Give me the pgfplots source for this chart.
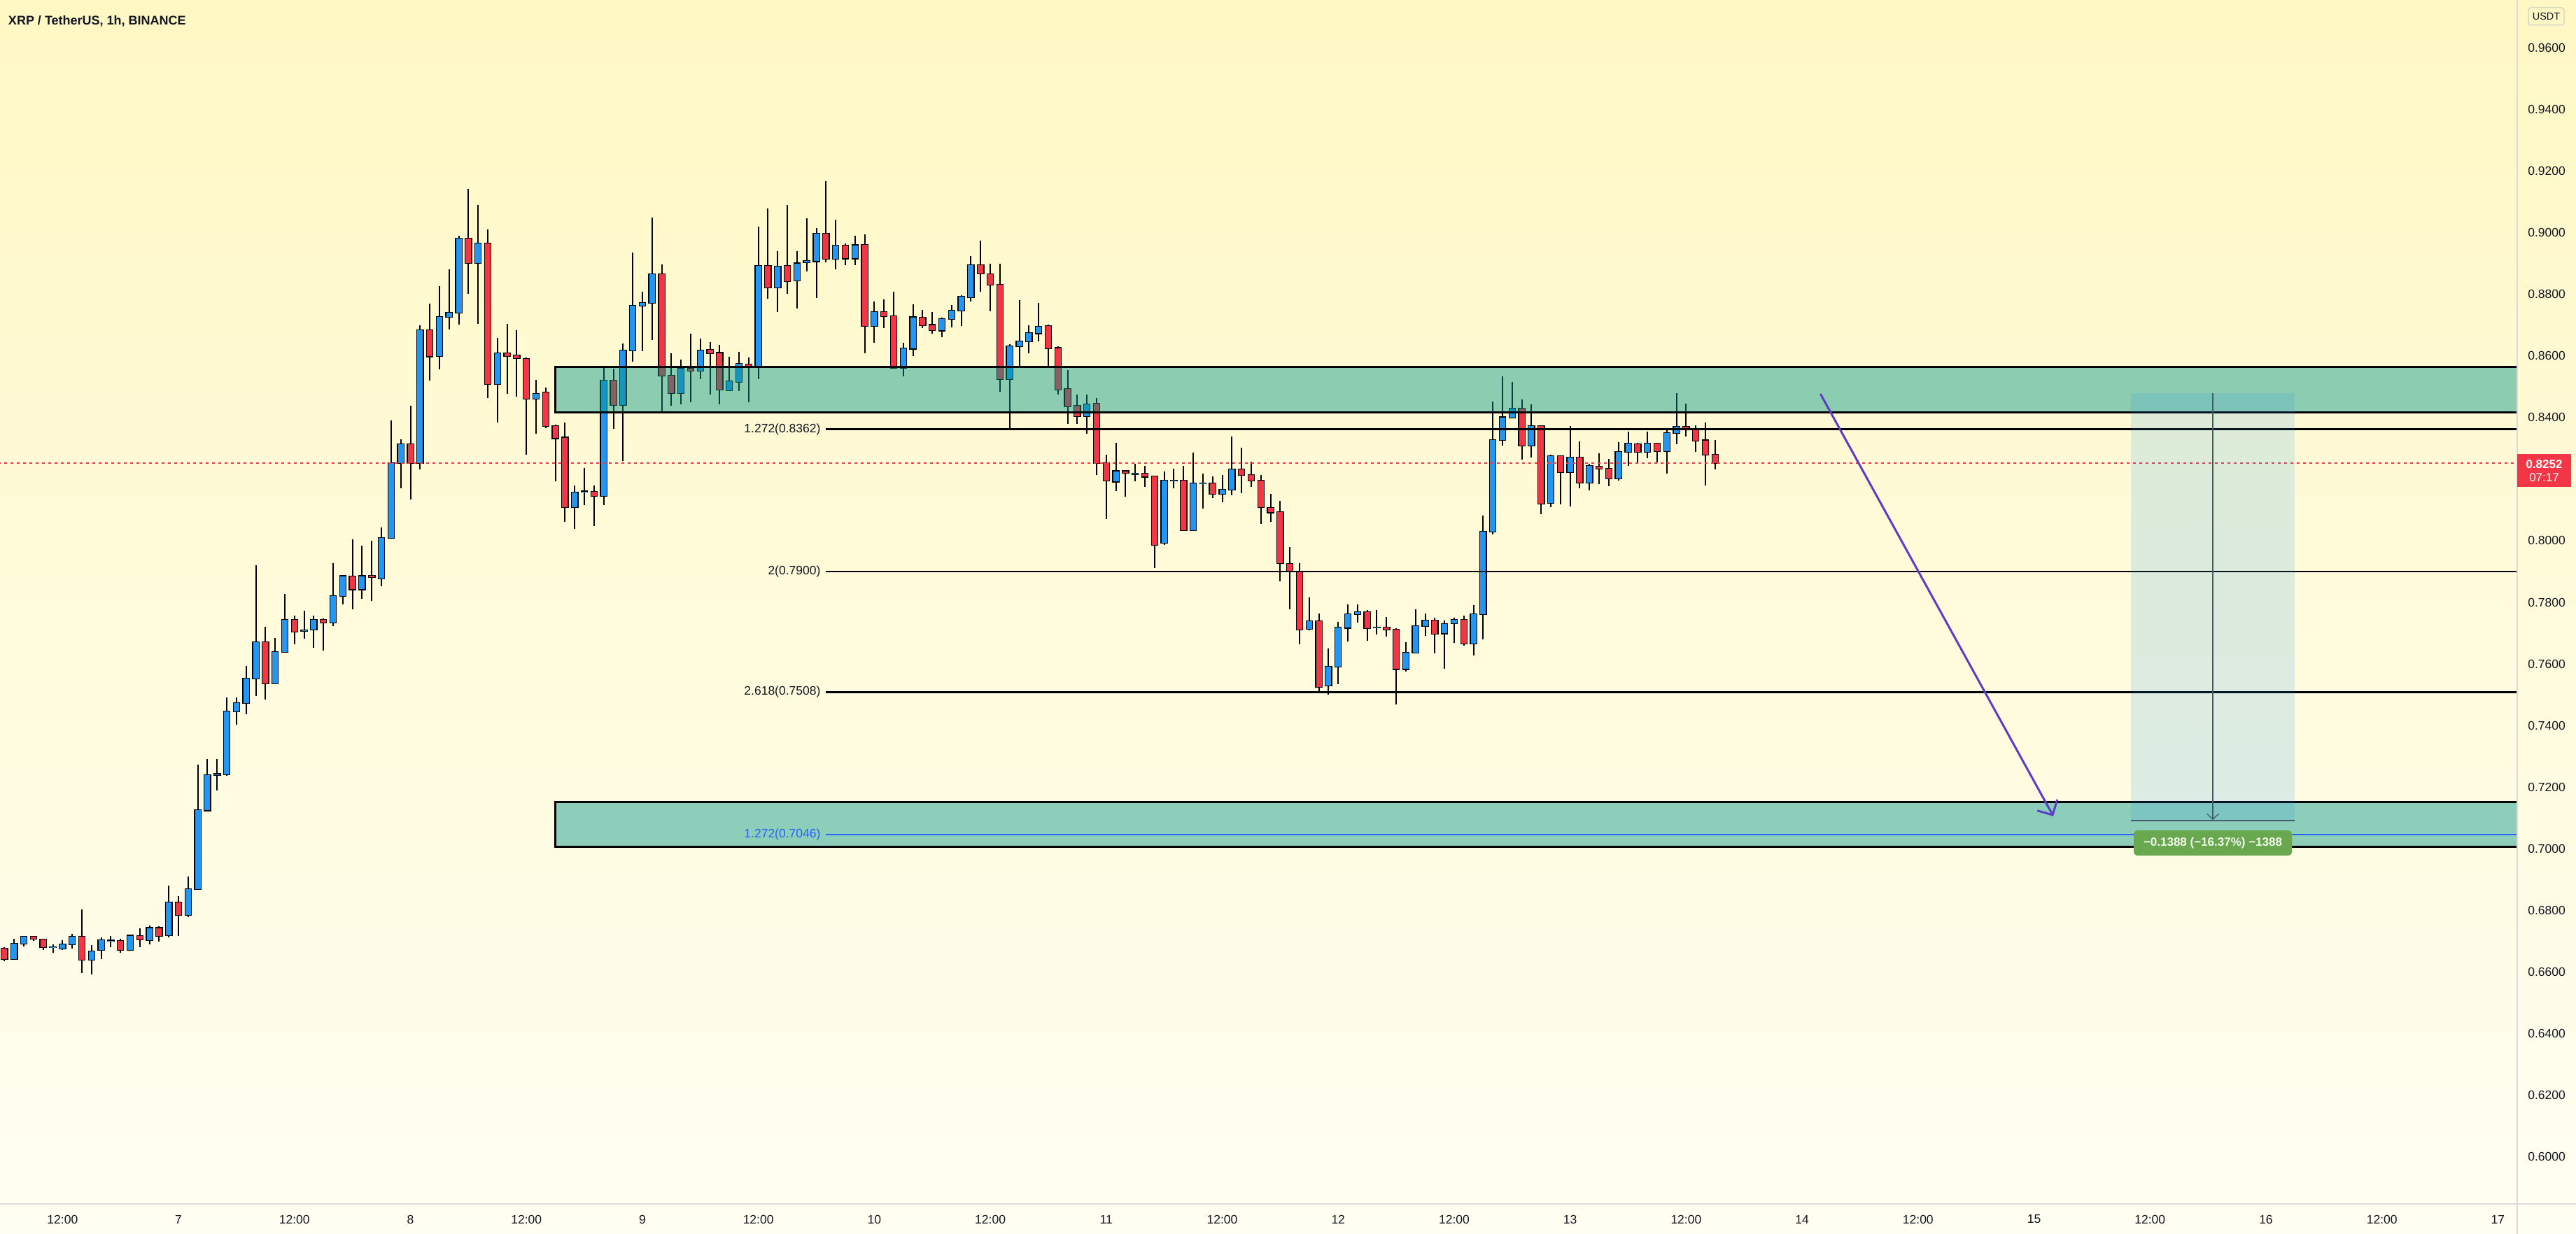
\documentclass[border=0pt]{standalone}
\usepackage{fontspec}
\setmainfont{Liberation Sans}
\usepackage{pgfplots}
\pgfplotsset{compat=1.18}
\usepackage{pgfplotstable}
\usetikzlibrary{arrows.meta}

\definecolor{tvblue}{RGB}{33,150,243}
\definecolor{tvred}{RGB}{242,54,69}
\definecolor{zonec}{RGB}{0,150,136}
\definecolor{fibblue}{RGB}{41,98,255}
\definecolor{arrowpurple}{RGB}{91,62,199}
\definecolor{labelgreen}{RGB}{106,168,79}
\definecolor{txt}{RGB}{19,23,34}
\definecolor{bgtop}{RGB}{255,248,196}
\definecolor{bgbot}{RGB}{255,254,242}
\definecolor{slate}{RGB}{70,90,110}
\definecolor{sep}{RGB}{218,218,218}

\pgfplotstableread{
t o hi lo c
-18 .6675 .6680 .6633 .6642
-17 .6642 .6706 .6640 .6691
-16 .6691 .6717 .6682 .6713
-15 .6713 .6717 .6700 .6706
-14 .6704 .6706 .6670 .6679
-13 .6679 .6688 .6662 .6680
-12 .6675 .6702 .6670 .6688
-11 .6688 .6722 .6675 .6713
-10 .6713 .6802 .6595 .6639
-9 .6639 .6686 .6590 .6666
-8 .6671 .6711 .6642 .6702
-7 .6700 .6717 .6680 .6701
-6 .6700 .6706 .6662 .6671
-5 .6671 .6720 .6668 .6717
-4 .6715 .6742 .6680 .6704
-3 .6702 .6751 .6688 .6742
-2 .6742 .6747 .6698 .6717
-1 .6718 .6880 .6711 .6825
0 .6824 .6845 .6715 .6784
1 .6784 .6910 .6778 .6869
2 .6869 .7273 .6869 .7124
3 .7124 .7291 .7120 .7238
4 .7238 .7291 .7189 .7242
5 .7242 .7492 .7237 .7445
6 .7445 .7490 .7403 .7472
7 .7472 .7594 .7436 .7552
8 .7552 .7920 .7496 .7670
9 .7670 .7720 .7483 .7537
10 .7537 .7684 .7536 .7639
11 .7639 .7827 .7639 .7742
12 .7742 .7757 .7664 .7704
13 .7706 .7773 .7681 .7708
14 .7711 .7757 .7652 .7742
15 .7742 .7748 .7643 .7735
16 .7735 .7927 .7722 .7820
17 .7820 .7889 .7793 .7885
18 .7883 .8005 .7778 .7842
19 .7842 .7983 .7811 .7885
20 .7887 .8001 .7804 .7882
21 .7878 .8043 .7853 .8009
22 .8009 .8391 .8007 .8253
23 .8253 .8329 .8170 .8313
24 .8313 .8438 .8134 .8253
25 .8253 .8701 .8231 .8683
26 .8683 .8770 .8520 .8599
27 .8601 .8828 .8556 .8728
28 .8728 .8882 .8686 .8741
29 .8741 .8991 .8703 .8982
30 .8982 .9143 .8802 .8902
31 .8902 .9090 .8704 .8965
32 .8965 .9012 .8463 .8510
33 .8510 .8659 .8384 .8608
34 .8608 .8704 .8478 .8600
35 .8603 .8683 .8467 .8594
36 .8590 .8596 .8279 .8461
37 .8461 .8523 .8347 .8478
38 .8481 .8498 .8365 .8373
39 .8373 .8378 .8192 .8333
40 .8335 .8385 .8061 .8110
41 .8110 .8179 .8038 .8157
42 .8159 .8237 .8116 .8160
43 .8159 .8179 .8048 .8146
44 .8146 .8567 .8116 .8521
45 .8521 .8559 .8364 .8440
46 .8440 .8641 .8260 .8617
47 .8618 .8936 .8582 .8763
48 .8763 .8810 .8615 .8772
49 .8772 .9050 .8653 .8866
50 .8866 .8898 .8418 .8537
51 .8537 .8608 .8439 .8479
52 .8479 .8588 .8443 .8559
53 .8559 .8673 .8449 .8552
54 .8552 .8657 .8525 .8618
55 .8620 .8645 .8476 .8610
56 .8610 .8636 .8444 .8490
57 .8488 .8598 .8488 .8518
58 .8515 .8613 .8486 .8574
59 .8572 .8596 .8449 .8564
60 .8564 .9020 .8524 .8892
61 .8894 .9080 .8787 .8822
62 .8822 .8941 .8742 .8890
63 .8892 .9090 .8803 .8844
64 .8846 .8941 .8755 .8901
65 .8904 .9048 .8875 .8908
66 .8908 .9016 .8789 .8998
67 .8998 .9169 .8905 .8915
68 .8915 .9042 .8882 .8958
69 .8958 .8965 .8896 .8917
70 .8917 .8991 .8896 .8960
71 .8962 .8995 .8608 .8697
72 .8697 .8778 .8642 .8742
73 .8742 .8785 .8690 .8730
74 .8730 .8808 .8559 .8562
75 .8562 .8643 .8535 .8624
76 .8624 .8768 .8601 .8726
77 .8724 .8750 .8690 .8701
78 .8701 .8743 .8673 .8685
79 .8683 .8725 .8661 .8720
80 .8720 .8765 .8693 .8747
81 .8747 .8798 .8697 .8792
82 .8790 .8925 .8778 .8896
83 .8896 .8976 .8810 .8868
84 .8865 .8900 .8746 .8831
85 .8831 .8900 .8484 .8525
86 .8525 .8638 .8364 .8631
87 .8631 .8782 .8569 .8647
88 .8647 .8700 .8608 .8674
89 .8674 .8772 .8648 .8695
90 .8697 .8703 .8564 .8626
91 .8626 .8632 .8474 .8490
92 .8492 .8555 .8380 .8437
93 .8438 .8475 .8379 .8405
94 .8405 .8475 .8348 .8444
95 .8446 .8464 .8213 .8253
96 .8253 .8279 .8071 .8195
97 .8192 .8317 .8161 .8226
98 .8226 .8226 .8144 .8220
99 .8217 .8250 .8194 .8218
100 .8217 .8242 .8176 .8208
101 .8208 .8208 .7911 .7987
102 .7993 .8226 .7987 .8195
103 .8195 .8234 .8171 .8196
104 .8195 .8243 .8035 .8035
105 .8035 .8286 .8033 .8186
106 .8186 .8218 .8105 .8187
107 .8186 .8210 .8139 .8152
108 .8152 .8213 .8125 .8166
109 .8166 .8339 .8148 .8232
110 .8232 .8303 .8155 .8213
111 .8213 .8256 .8174 .8195
112 .8195 .8214 .8055 .8109
113 .8106 .8152 .8062 .8092
114 .8092 .8130 .7867 .7927
115 .7925 .7979 .7778 .7902
116 .7897 .7927 .7663 .7711
117 .7713 .7816 .7709 .7738
118 .7738 .7763 .7511 .7526
119 .7529 .7650 .7501 .7591
120 .7591 .7737 .7534 .7718
121 .7717 .7794 .7673 .7761
122 .7761 .7794 .7733 .7767
123 .7767 .7774 .7676 .7715
124 .7718 .7775 .7695 .7719
125 .7719 .7753 .7688 .7711
126 .7711 .7716 .7468 .7583
127 .7583 .7670 .7576 .7637
128 .7637 .7778 .7637 .7722
129 .7722 .7763 .7690 .7740
130 .7740 .7751 .7634 .7697
131 .7699 .7741 .7585 .7730
132 .7732 .7751 .7669 .7742
133 .7742 .7756 .7658 .7667
134 .7667 .7791 .7628 .7761
135 .7761 .8082 .7680 .8029
136 .8029 .8452 .8021 .8328
137 .8328 .8533 .8309 .8401
138 .8401 .8516 .8401 .8430
139 .8429 .8458 .8264 .8310
140 .8310 .8442 .8271 .8372
141 .8372 .8372 .8087 .8120
142 .8122 .8279 .8108 .8274
143 .8274 .8277 .8119 .8222
144 .8222 .8373 .8112 .8270
145 .8270 .8323 .8170 .8188
146 .8188 .8249 .8163 .8242
147 .8240 .8284 .8185 .8234
148 .8233 .8266 .8178 .8202
149 .8202 .8321 .8195 .8288
150 .8288 .8354 .8242 .8315
151 .8313 .8318 .8253 .8288
152 .8288 .8354 .8267 .8315
153 .8316 .8319 .8254 .8290
154 .8290 .8365 .8217 .8350
155 .8350 .8479 .8314 .8370
156 .8370 .8446 .8339 .8362
157 .8362 .8375 .8289 .8326
158 .8326 .8385 .8180 .8279
159 .8279 .8327 .8231 .8252
}\candles

\newcommand{\tickfont}{\fontsize{3.5}{4}\selectfont}
\pgfplotsset{candlebar/.style={only marks, mark=*, mark size=0pt,
  mark options={draw=none, fill=none},
  error bars/.cd, y dir=minus, y explicit, error mark=none}}

\begin{document}
\begin{tikzpicture}
\useasboundingbox (0,0) rectangle (736.2pt,352.8pt);
\shade[top color=bgtop, bottom color=bgbot] (0,0) rectangle (736.2pt,352.8pt);
\begin{axis}[
  at={(0pt,8.6pt)}, anchor=south west,
  width=719.4pt, height=344.2pt, scale only axis,
  xmin=-18.47, xmax=242.0, ymin=0.58455, ymax=0.97568,
  axis line style={draw=none}, tick style={draw=none},
  xtick={-12,0,...,240},
  xticklabels={12:00,7,12:00,8,12:00,9,12:00,10,12:00,11,12:00,12,12:00,13,12:00,14,12:00,15,12:00,16,12:00,17},
  ytick={0.60,0.62,0.64,0.66,0.68,0.70,0.72,0.74,0.76,0.78,0.80,0.84,0.86,0.88,0.90,0.92,0.94,0.96},
  yticklabels={0.6000,0.6200,0.6400,0.6600,0.6800,0.7000,0.7200,0.7400,0.7600,0.7800,0.8000,0.8400,0.8600,0.8800,0.9000,0.9200,0.9400,0.9600},
  yticklabel pos=right,
  xticklabel style={anchor=center, yshift=-4.4pt, font=\tickfont, text=txt},
  yticklabel style={anchor=center, xshift=8.4pt, font=\tickfont, text=txt},
  /pgf/number format/assume math mode=true,
]
% wicks
\addplot[candlebar, error bar style={line width=0.4pt, draw=black, solid}]
  table[x=t, y=hi, y error minus expr={\thisrow{hi}-\thisrow{lo}}] {\candles};
% body outlines
\addplot[candlebar, error bar style={line width=2.1pt, draw=black, solid}]
  table[x=t, y expr={max(\thisrow{o},\thisrow{c})+0.00025}, y error minus expr={abs(\thisrow{c}-\thisrow{o})+0.0005}] {\candles};
% up bodies
\addplot[candlebar, error bar style={line width=1.6pt, draw=tvblue, solid}]
  table[x=t, y expr={max(\thisrow{o},\thisrow{c})}, y error minus expr={max(\thisrow{c}-\thisrow{o},0)}] {\candles};
% down bodies
\addplot[candlebar, error bar style={line width=1.6pt, draw=tvred, solid}]
  table[x=t, y expr={max(\thisrow{o},\thisrow{c})}, y error minus expr={max(\thisrow{o}-\thisrow{c},0)}] {\candles};

% current price line
\addplot[tvred, line width=0.4pt, dash pattern=on 0.8pt off 1.0pt] coordinates {(-20,0.8252) (245,0.8252)};

% zones
\addplot[draw=none, fill=zonec, fill opacity=0.45] coordinates {(39,0.8418) (250,0.8418) (250,0.8564) (39,0.8564)} -- cycle;
\addplot[black, line width=0.6pt] coordinates {(250,0.8564) (39,0.8564) (39,0.8418) (250,0.8418)};
\addplot[draw=none, fill=zonec, fill opacity=0.45] coordinates {(39,0.7005) (250,0.7005) (250,0.7152) (39,0.7152)} -- cycle;
\addplot[black, line width=0.6pt] coordinates {(250,0.7152) (39,0.7152) (39,0.7005) (250,0.7005)};

% fib levels
\addplot[black, line width=0.5pt] coordinates {(67,0.8362) (250,0.8362)};
\addplot[black, line width=0.5pt] coordinates {(67,0.7900) (250,0.7900)};
\addplot[black, line width=0.5pt] coordinates {(67,0.7508) (250,0.7508)};
\addplot[fibblue, line width=0.5pt] coordinates {(67,0.7046) (250,0.7046)};
\node[anchor=east, inner sep=0pt, font=\tickfont, text=txt] at (axis cs:66.5,0.8362) {1.272(0.8362)};
\node[anchor=east, inner sep=0pt, font=\tickfont, text=txt] at (axis cs:66.5,0.7900) {2(0.7900)};
\node[anchor=east, inner sep=0pt, font=\tickfont, text=txt] at (axis cs:66.5,0.7508) {2.618(0.7508)};
\node[anchor=east, inner sep=0pt, font=\tickfont, text=fibblue] at (axis cs:66.5,0.7046) {1.272(0.7046)};

% price range tool
\addplot[draw=none, fill=tvblue, fill opacity=0.15] coordinates {(202,0.7091) (219,0.7091) (219,0.8479) (202,0.8479)} -- cycle;
\addplot[slate, line width=0.25pt] coordinates {(202,0.7091) (219,0.7091)};
\addplot[slate, line width=0.25pt, -{Straight Barb[length=1.6pt,width=3.4pt]}] coordinates {(210.5,0.8479) (210.5,0.7093)};
\node[fill=labelgreen, rounded corners=1pt, minimum width=45.2pt, minimum height=7.2pt, inner sep=0pt,
  text={rgb,255:red,240;green,248;blue,235}, font=\bfseries\fontsize{3.4}{4}\selectfont] at (axis cs:210.5,0.7018) {−0.1388 (−16.37\%) −1388};

% forecast arrow
\addplot[arrowpurple, line width=0.6pt, -{Straight Barb[length=3.2pt,width=6.5pt]}] coordinates {(169.9,0.8477) (194.0,0.7105)};
\end{axis}

% separators
\draw[sep, line width=0.3pt] (719.4pt,0) -- (719.4pt,352.8pt);
\draw[sep, line width=0.3pt] (0,8.6pt) -- (736.2pt,8.6pt);

% title
\node[anchor=base west, inner sep=0pt, font=\bfseries\fontsize{3.6}{4}\selectfont, text=txt] at (2.2pt,345.6pt) {XRP / TetherUS, 1h, BINANCE};

% USDT box
\draw[gray!45, line width=0.2pt, rounded corners=0.8pt] (722.6pt,345.6pt) rectangle (732.8pt,350.6pt);
\node[inner sep=0pt, font=\fontsize{2.9}{3.2}\selectfont, text=txt] at (727.7pt,348.1pt) {USDT};

% price tag
\fill[tvred] (719.4pt,213.6pt) rectangle (734.8pt,223.0pt);
\node[inner sep=0pt, font=\bfseries\fontsize{3.4}{4}\selectfont, text=white] at (727.1pt,220.1pt) {0.8252};
\node[inner sep=0pt, font=\fontsize{3.4}{4}\selectfont, text=white] at (727.1pt,216.2pt) {07:17};
\end{tikzpicture}
\end{document}
